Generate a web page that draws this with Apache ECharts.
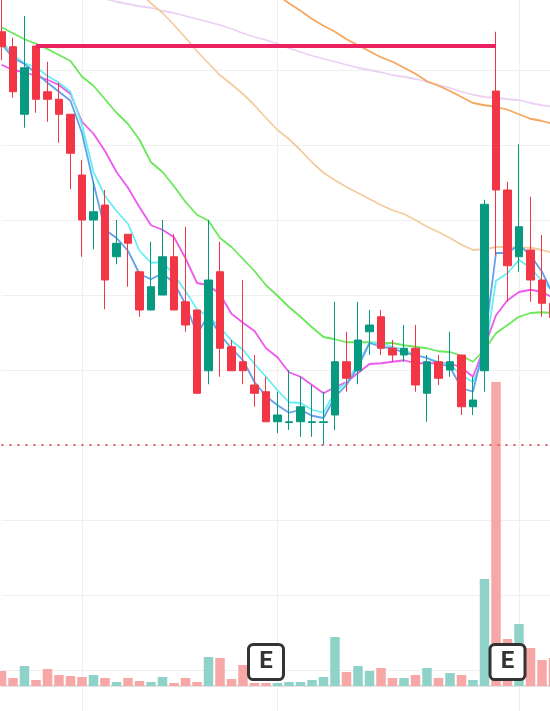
<!DOCTYPE html>
<html>
<head>
<meta charset="utf-8">
<style>
  html, body { margin: 0; padding: 0; background: #fff; }
  #chart { width: 550px; height: 711px; }
</style>
<script src="https://cdn.jsdelivr.net/npm/echarts@6/dist/echarts.min.js"></script>
</head>
<body>
<div id="chart"></div>
<script>
// trading days
const dates = [
  '08-14', '08-15', '08-16', '08-17', '08-18', '08-21', '08-22', '08-23', '08-24', '08-25',
  '08-28', '08-29', '08-30', '08-31', '09-01', '09-05', '09-06', '09-07', '09-08', '09-11',
  '09-12', '09-13', '09-14', '09-15', '09-18', '09-19', '09-20', '09-21', '09-22', '09-25',
  '09-26', '09-27', '09-28', '09-29', '10-02', '10-03', '10-04', '10-05', '10-06', '10-09',
  '10-10', '10-11', '10-12', '10-13', '10-16', '10-17', '10-18', '10-19', '10-20'
]

// [open, close, low, high]
const ohlc = [
  [25.51, 25.31, 25.13, 25.95], [25.31, 24.71, 24.63, 25.43], [24.41, 25.03, 24.23, 25.72],
  [25.32, 24.61, 24.43, 25.32], [24.71, 24.61, 24.31, 25.11], [24.61, 24.41, 24.03, 24.83],
  [24.41, 23.89, 23.41, 24.41], [23.60, 23.00, 22.51, 23.80], [23.00, 23.11, 22.61, 23.51],
  [23.20, 22.20, 21.81, 23.40], [22.51, 22.69, 22.41, 23.00], [22.81, 22.69, 22.11, 22.81],
  [22.31, 21.80, 21.71, 22.31], [21.80, 22.11, 21.80, 22.71], [22.00, 22.51, 22.00, 23.00],
  [22.51, 21.80, 21.80, 22.81], [21.91, 21.60, 21.51, 22.91], [21.80, 20.69, 20.69, 21.80],
  [20.99, 22.20, 20.81, 23.00], [22.31, 21.29, 20.91, 22.71], [21.31, 20.99, 20.99, 21.40],
  [21.11, 20.99, 20.81, 22.20], [20.80, 20.69, 20.51, 21.20], [20.71, 20.31, 20.31, 20.91],
  [20.31, 20.40, 20.16, 20.71], [20.30, 20.31, 20.20, 21.00], [20.31, 20.51, 20.11, 20.91],
  [20.30, 20.31, 20.11, 20.80], [20.30, 20.31, 20.00, 20.71], [20.40, 21.11, 20.20, 21.91],
  [21.11, 20.89, 20.71, 21.51], [20.99, 21.40, 20.81, 21.91], [21.51, 21.60, 21.20, 21.80],
  [21.71, 21.29, 21.20, 21.80], [21.29, 21.20, 21.11, 21.40], [21.20, 21.29, 21.11, 21.60],
  [21.29, 20.80, 20.71, 21.60], [20.69, 21.11, 20.31, 21.20], [21.11, 20.89, 20.80, 21.20],
  [21.00, 21.11, 20.91, 21.51], [21.20, 20.51, 20.40, 21.20], [20.51, 20.60, 20.40, 20.91],
  [20.99, 23.21, 20.71, 23.27], [24.72, 23.40, 22.53, 25.51], [23.40, 22.39, 21.91, 23.51],
  [22.51, 22.91, 22.31, 24.01], [22.60, 22.20, 21.91, 23.31], [22.20, 21.89, 21.71, 22.80],
  [21.89, 21.70, 21.60, 22.10]
]

// volume (x100k)
const volume = [
  1.5, 0.8, 2.0, 0.6, 1.7, 1.1, 1.0, 0.9, 1.1, 0.8,
  0.4, 0.8, 0.5, 0.4, 0.9, 0.3, 0.8, 0.4, 2.9, 2.8,
  0.7, 2.1, 0.3, 0.3, 0.3, 0.4, 0.4, 0.6, 0.9, 4.9,
  1.4, 2.0, 1.5, 1.8, 0.8, 0.8, 1.1, 1.8, 0.8, 1.3,
  1.1, 0.6, 10.7, 30.4, 4.7, 6.2, 3.8, 2.6, 2.8
]

const ma5 = [
  25.35, 25.16, 25.08, 24.96, 24.83, 24.71, 24.59, 24.16, 23.49, 22.87,
  22.76, 22.59, 22.28, 22.21, 22.29, 22.16, 21.88, 21.48, 21.73, 21.47,
  21.29, 21.13, 20.84, 20.65, 20.53, 20.43, 20.47, 20.39, 20.36, 20.64,
  20.80, 21.04, 21.36, 21.31, 21.29, 21.23, 21.20, 21.16, 21.09, 21.04,
  20.76, 20.71, 21.36, 22.56, 22.56, 22.67, 22.53, 22.31, 22.00
]
const ma10 = [
  25.39, 25.20, 25.09, 25.04, 24.92, 24.83, 24.71, 24.27, 23.64, 23.32,
  23.12, 22.95, 22.59, 22.43, 22.44, 22.27, 22.05, 21.81, 21.71, 21.57,
  21.39, 21.27, 21.08, 20.91, 20.73, 20.57, 20.56, 20.47, 20.43, 20.71,
  20.83, 21.09, 21.36, 21.36, 21.31, 21.27, 21.20, 21.16, 21.11, 21.07,
  20.93, 20.84, 21.17, 22.19, 22.29, 22.47, 22.36, 22.19, 22.04
]
const ma20 = [
  25.07, 25.00, 24.97, 24.92, 24.87, 24.80, 24.68, 24.31, 24.15, 23.92,
  23.64, 23.43, 23.17, 22.93, 22.87, 22.77, 22.49, 22.16, 22.13, 22.01,
  21.75, 21.63, 21.52, 21.29, 21.17, 20.97, 20.91, 20.80, 20.69, 20.77,
  20.84, 20.96, 21.08, 21.09, 21.11, 21.13, 21.09, 21.09, 21.09, 21.09,
  21.03, 20.91, 21.31, 21.73, 21.93, 22.04, 22.07, 22.04, 21.96
]
const ma30 = [
  25.57, 25.49, 25.41, 25.35, 25.28, 25.20, 25.12, 24.91, 24.79, 24.61,
  24.43, 24.28, 24.07, 23.77, 23.64, 23.45, 23.24, 23.07, 22.99, 22.76,
  22.64, 22.48, 22.32, 22.13, 21.99, 21.84, 21.71, 21.57, 21.44, 21.41,
  21.37, 21.37, 21.37, 21.36, 21.36, 21.33, 21.31, 21.29, 21.25, 21.24,
  21.19, 21.11, 21.27, 21.49, 21.60, 21.71, 21.76, 21.77, 21.76
]
const ma60 = [
  27.93, 27.77, 27.61, 27.45, 27.29, 27.13, 26.97, 26.81, 26.65, 26.49,
  26.33, 26.19, 26.04, 25.89, 25.76, 25.60, 25.43, 25.25, 25.09, 24.93,
  24.81, 24.68, 24.53, 24.36, 24.20, 24.08, 23.93, 23.77, 23.63, 23.53,
  23.44, 23.36, 23.28, 23.20, 23.13, 23.08, 23.00, 22.91, 22.84, 22.76,
  22.67, 22.60, 22.61, 22.64, 22.64, 22.63, 22.63, 22.60, 22.56
]
const ma120 = [
  28.72, 28.60, 28.49, 28.37, 28.27, 28.15, 28.04, 27.92, 27.81, 27.69,
  27.59, 27.47, 27.36, 27.24, 27.13, 27.01, 26.91, 26.79, 26.68, 26.56,
  26.45, 26.33, 26.23, 26.11, 26.00, 25.89, 25.79, 25.68, 25.59, 25.51,
  25.41, 25.33, 25.25, 25.17, 25.11, 25.03, 24.95, 24.85, 24.79, 24.72,
  24.64, 24.56, 24.53, 24.51, 24.47, 24.41, 24.35, 24.32, 24.28
]
const ma250 = [
  26.29, 26.25, 26.21, 26.17, 26.13, 26.09, 26.05, 26.01, 25.97, 25.95,
  25.91, 25.88, 25.85, 25.83, 25.79, 25.76, 25.72, 25.68, 25.64, 25.60,
  25.55, 25.49, 25.44, 25.40, 25.35, 25.29, 25.24, 25.19, 25.15, 25.11,
  25.07, 25.03, 25.00, 24.97, 24.93, 24.91, 24.88, 24.84, 24.80, 24.76,
  24.71, 24.67, 24.64, 24.63, 24.61, 24.60, 24.56, 24.53, 24.51
]

const gridDays = [7, 24, 45]      // vertical separators
const earningsDays = [23, 44]     // "E" badges
const resistance = { from: 3, to: 43, price: 25.32 }
const supportPrice = 20

const up = '#089981'
const down = '#f23645'
const upVol = '#8fd3c8'
const downVol = '#f7a7a5'

// rounded square with small corners
const badge = 'path://M5,0H31A5,5 0 0 1 36,5V31A5,5 0 0 1 31,36H5A5,5 0 0 1 0,31V5A5,5 0 0 1 5,0Z'

const chart = echarts.init(document.getElementById('chart'))

function maLine(name, data, color) {
  return {
    name: name,
    type: 'line',
    data: data,
    symbol: 'none',
    z: 2,
    lineStyle: { color: color, width: 1.8 }
  }
}

const volData = volume.map(function (v, i) {
  const isUp = ohlc[i][1] >= ohlc[i][0]
  return { value: v, itemStyle: { color: isUp ? upVol : downVol } }
})

chart.setOption({
  animation: false,
  grid: [
    { left: 1.5, right: -3.5, top: -5, bottom: -34, outerBoundsMode: 'none' },
    { left: 1.5, right: -3.5, top: 376, bottom: 25, outerBoundsMode: 'none' }
  ],
  xAxis: [
    {
      type: 'category',
      data: dates,
      boundaryGap: false,
      axisLine: { show: false },
      axisTick: { show: false },
      axisLabel: { show: false },
      splitLine: {
        show: true,
        interval: function (index) {
          return gridDays.indexOf(index) >= 0
        },
        lineStyle: { color: '#eeeeee', width: 1 }
      }
    },
    {
      type: 'category',
      gridIndex: 1,
      data: dates,
      boundaryGap: false,
      axisLine: { show: true, lineStyle: { color: '#e3e3e3', width: 2 } },
      axisTick: { show: false },
      axisLabel: { show: false },
      splitLine: { show: false }
    }
  ],
  yAxis: [
    {
      type: 'value',
      min: 16,
      max: 26,
      interval: 1,
      axisLine: { show: false },
      axisTick: { show: false },
      axisLabel: { show: false },
      splitLine: { show: true, lineStyle: { color: '#f0f0f0', width: 1 } }
    },
    {
      type: 'value',
      gridIndex: 1,
      min: 0,
      max: 31,
      show: false,
      splitLine: { show: false }
    }
  ],
  series: [
    maLine('MA250', ma250, '#ebd2f2'),
    maLine('MA120', ma120, '#f6a65e'),
    maLine('MA60', ma60, '#f5cba0'),
    maLine('MA30', ma30, '#6ae85a'),
    maLine('MA20', ma20, '#ee58ee'),
    maLine('MA10', ma10, '#66eef0'),
    maLine('MA5', ma5, '#63a1ea'),
    {
      name: 'price',
      type: 'candlestick',
      data: ohlc,
      barWidth: 8,
      clip: false,
      z: 3,
      itemStyle: {
        color: up,
        color0: down,
        borderColor: up,
        borderColor0: down,
        borderWidth: 1
      },
      markLine: {
        symbol: 'none',
        silent: true,
        label: { show: false },
        data: [
          {
            yAxis: supportPrice,
            lineStyle: { color: '#e2586a', width: 2, type: [2, 6] }
          },
          [
            { coord: [dates[resistance.from], resistance.price] },
            {
              coord: [dates[resistance.to], resistance.price],
              lineStyle: { color: '#ea2260', width: 4, type: 'solid' }
            }
          ]
        ]
      }
    },
    {
      name: 'volume',
      type: 'bar',
      xAxisIndex: 1,
      yAxisIndex: 1,
      data: volData,
      barWidth: 9.5,
      clip: false
    },
    {
      name: 'earnings',
      type: 'scatter',
      xAxisIndex: 1,
      yAxisIndex: 1,
      data: earningsDays.map(function (i) { return [dates[i], 2.4] }),
      symbol: badge,
      symbolSize: 35,
      z: 5,
      itemStyle: { color: '#ffffff', borderColor: '#333333', borderWidth: 3, opacity: 1 },
      label: {
        show: true,
        position: 'inside',
        formatter: 'E',
        color: '#333333',
        fontSize: 24,
        fontWeight: 'bold',
        fontFamily: 'Roboto'
      }
    }
  ]
})
</script>
</body>
</html>
